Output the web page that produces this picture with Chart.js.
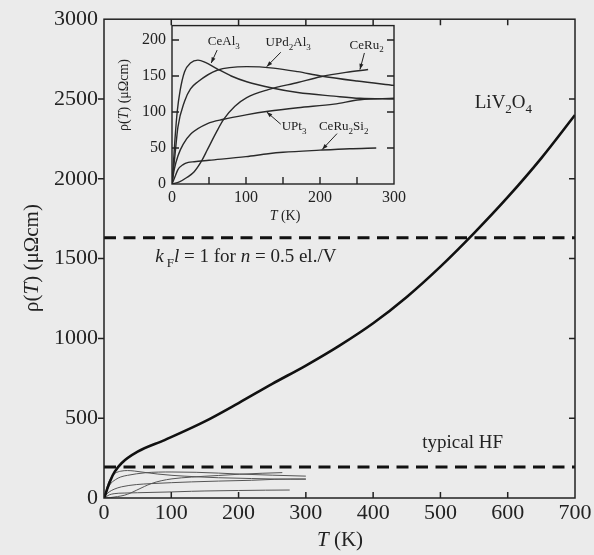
<!DOCTYPE html>
<html>
<head>
<meta charset="utf-8">
<script src="https://cdn.jsdelivr.net/npm/chart.js@4.4.1/dist/chart.umd.min.js"></script>
<style>
  html, body { margin: 0; padding: 0; background: #ebebeb; }
  #wrap { position: relative; width: 594px; height: 555px; }
  #main { position: absolute; left: 0; top: 0; }
  #inset { position: absolute; left: 100px; top: 10px; }
</style>
</head>
<body>
<div id="wrap">
  <canvas id="main" width="594" height="555"></canvas>
  <canvas id="inset" width="310" height="215"></canvas>
</div>
<script>
// LiV2O4 resistivity (main curve)
const liT   = [0, 2, 5, 10, 16, 26, 50, 90, 150, 200, 250, 300, 350, 400, 450, 500, 550, 600, 650, 700];
const liRho = [0, 20, 60, 115, 165, 218, 290, 363, 480, 595, 715, 830, 955, 1095, 1260, 1450, 1660, 1885, 2130, 2400];

// heavy fermion compounds (inset, also drawn small in main panel)
const ceal3T     = [0, 2, 4, 7, 11, 17, 25, 35, 45, 61, 80, 101, 137, 170, 219, 254, 300];
const ceal3Rho   = [0, 30, 62, 100, 130, 156, 168, 172, 169, 160, 150, 142, 133, 127, 122, 119, 118];
const upd2al3T   = [0, 4, 8, 17, 25, 35, 61, 101, 137, 170, 201, 250, 300];
const upd2al3Rho = [0, 40, 79, 115, 132, 142, 158, 163, 161, 156, 150, 143, 137];
const upt3T      = [0, 3, 8, 15, 26, 48, 70, 100, 130, 170, 219, 254, 300];
const upt3Rho    = [0, 20, 39, 55, 70, 84, 90, 96, 101, 106, 111, 117, 119];
const ceru2T     = [0, 10, 20, 30, 40, 48, 60, 70, 85, 101, 130, 170, 201, 235, 265];
const ceru2Rho   = [0, 3, 9, 17, 32, 48, 72, 90, 108, 120, 131, 141, 149, 155, 159];
const ceru2si2T   = [0, 4, 8, 15, 22, 30, 50, 100, 130, 150, 200, 240, 276];
const ceru2si2Rho = [0, 10, 20, 27, 30, 31, 33, 38, 42, 44, 47, 49, 50];

// reference levels
const kflLevel = 1630;   // k_F l = 1
const hfLevel  = 195;    // typical HF

const SERIF = '"Liberation Serif", "DejaVu Serif", serif';
const INK = '#222';

const pts = (t, r) => t.map((v, i) => ({ x: v, y: r[i] }));

function fontFor(p, size) {
  const s = p[1] === 's' ? Math.round(size * 0.7) : size;
  return (p[1] === 'i' ? 'italic ' : '') + s + 'px ' + SERIF;
}
// parts: [text, style]  style: '' normal, 'i' italic, 's' subscript
function drawRich(ctx, parts, x, y, size, align) {
  let w = 0;
  parts.forEach(p => { ctx.font = fontFor(p, size); w += ctx.measureText(p[0]).width; });
  let cx = align === 'center' ? x - w / 2 : x;
  parts.forEach(p => {
    ctx.font = fontFor(p, size);
    ctx.fillText(p[0], cx, y + (p[1] === 's' ? size * 0.28 : 0));
    cx += ctx.measureText(p[0]).width;
  });
}

function drawFrame(chart, spec) {
  const { ctx, chartArea: a, scales: { x, y } } = chart;
  ctx.save();
  ctx.strokeStyle = INK;
  ctx.lineWidth = spec.lw;
  ctx.strokeRect(a.left, a.top, a.right - a.left, a.bottom - a.top);
  ctx.beginPath();
  for (let v = x.min + spec.xStep; v < x.max; v += spec.xStep) {
    const px = x.getPixelForValue(v);
    ctx.moveTo(px, a.bottom); ctx.lineTo(px, a.bottom - spec.len);
    if (spec.top) { ctx.moveTo(px, a.top); ctx.lineTo(px, a.top + spec.len); }
  }
  for (let v = y.min + spec.yStep; v < y.max; v += spec.yStep) {
    const py = y.getPixelForValue(v);
    if (spec.leftOut) { ctx.moveTo(a.left, py); ctx.lineTo(a.left - spec.len, py); }
    else { ctx.moveTo(a.left, py); ctx.lineTo(a.left + spec.len, py); }
    ctx.moveTo(a.right, py); ctx.lineTo(a.right - spec.len, py);
  }
  ctx.stroke();
  ctx.restore();
}

function hfSets(color, width) {
  return [ceal3T, upd2al3T, upt3T, ceru2T, ceru2si2T].map((t, i) => ({
    data: pts(t, [ceal3Rho, upd2al3Rho, upt3Rho, ceru2Rho, ceru2si2Rho][i]),
    borderColor: color,
    borderWidth: width,
    pointRadius: 0,
    tension: 0.4,
    cubicInterpolationMode: 'monotone'
  }));
}

// plain numbers, no thousands separator
const plain = v => String(v);

// ---------- main panel ----------
const mainDecor = {
  id: 'mainDecor',
  afterDraw(chart) {
    const { ctx, scales: { x, y } } = chart;
    drawFrame(chart, { lw: 1.5, xStep: 100, yStep: 500, len: 6, top: true, leftOut: true });
    ctx.save();
    ctx.fillStyle = INK;
    ctx.textBaseline = 'alphabetic';
    drawRich(ctx, [['LiV', ''], ['2', 's'], ['O', ''], ['4', 's']], x.getPixelForValue(551), y.getPixelForValue(2443), 19, 'left');
    drawRich(ctx, [['k', 'i'], [' F', 's'], ['l', 'i'], [' = 1 for ', ''], ['n', 'i'], [' = 0.5 el./V', '']],
      x.getPixelForValue(76), y.getPixelForValue(1478), 19, 'left');
    drawRich(ctx, [['typical HF', '']], x.getPixelForValue(473), y.getPixelForValue(313), 19, 'left');
    // axis titles
    ctx.textBaseline = 'middle';
    drawRich(ctx, [['T', 'i'], [' (K)', '']], 340, 540, 21, 'center');
    ctx.translate(32, 258);
    ctx.rotate(-Math.PI / 2);
    drawRich(ctx, [['\u03C1(', ''], ['T', 'i'], [') (\u03BC\u03A9cm)', '']], 0, 0, 21, 'center');
    ctx.restore();
  }
};

new Chart(document.getElementById('main'), {
  type: 'line',
  data: {
    datasets: [
      { data: pts(liT, liRho), borderColor: '#111', borderWidth: 2.6, pointRadius: 0, tension: 0.4, cubicInterpolationMode: 'monotone' },
      { data: [{ x: 0, y: kflLevel }, { x: 700, y: kflLevel }], borderColor: '#111', borderWidth: 3, borderDash: [12, 7.5], pointRadius: 0 },
      { data: [{ x: 0, y: hfLevel }, { x: 700, y: hfLevel }], borderColor: '#111', borderWidth: 3, borderDash: [12, 7.5], pointRadius: 0 },
      ...hfSets('#555', 1)
    ]
  },
  options: {
    responsive: false,
    animation: false,
    layout: { padding: { top: 19, right: 19, left: 0, bottom: 0 } },
    plugins: { legend: { display: false }, tooltip: { enabled: false } },
    scales: {
      x: {
        type: 'linear', min: 0, max: 700,
        ticks: { stepSize: 100, padding: 2, maxRotation: 0, color: INK, font: { family: SERIF, size: 22 }, callback: plain },
        grid: { display: false, drawTicks: false },
        border: { display: false },
        afterFit(s) { s.height = 57; }
      },
      y: {
        type: 'linear', min: 0, max: 3000,
        ticks: { stepSize: 500, padding: 6, color: INK, font: { family: SERIF, size: 22 }, callback: plain },
        grid: { display: false, drawTicks: false },
        border: { display: false },
        afterFit(s) { s.width = 104; }
      }
    }
  },
  plugins: [mainDecor]
});

// ---------- inset ----------
const insetLabels = [
  { parts: [['CeAl', ''], ['3', 's']], at: [70, 193], from: [61, 186], to: [53, 168] },
  { parts: [['UPd', ''], ['2', 's'], ['Al', ''], ['3', 's']], at: [157, 191], from: [147, 183], to: [128, 163] },
  { parts: [['CeRu', ''], ['2', 's']], at: [263, 188], from: [260, 182], to: [254, 159] },
  { parts: [['UPt', ''], ['3', 's']], at: [165, 75], from: [147, 83], to: [128, 100] },
  { parts: [['CeRu', ''], ['2', 's'], ['Si', ''], ['2', 's']], at: [232, 75], from: [223, 70], to: [203, 48] }
];

const insetDecor = {
  id: 'insetDecor',
  afterDraw(chart) {
    const { ctx, scales: { x, y } } = chart;
    drawFrame(chart, { lw: 1.4, xStep: 50, yStep: 50, len: 7, top: false, leftOut: false });
    ctx.save();
    ctx.fillStyle = INK;
    ctx.strokeStyle = INK;
    ctx.lineWidth = 1;
    ctx.textBaseline = 'alphabetic';
    insetLabels.forEach(l => {
      drawRich(ctx, l.parts, x.getPixelForValue(l.at[0]), y.getPixelForValue(l.at[1]), 13, 'center');
      const x0 = x.getPixelForValue(l.from[0]), y0 = y.getPixelForValue(l.from[1]);
      const x1 = x.getPixelForValue(l.to[0]), y1 = y.getPixelForValue(l.to[1]);
      const ang = Math.atan2(y1 - y0, x1 - x0);
      ctx.beginPath(); ctx.moveTo(x0, y0); ctx.lineTo(x1, y1); ctx.stroke();
      ctx.beginPath();
      ctx.moveTo(x1, y1);
      ctx.lineTo(x1 - 6 * Math.cos(ang - 0.35), y1 - 6 * Math.sin(ang - 0.35));
      ctx.lineTo(x1 - 6 * Math.cos(ang + 0.35), y1 - 6 * Math.sin(ang + 0.35));
      ctx.closePath(); ctx.fill();
    });
    ctx.textBaseline = 'middle';
    drawRich(ctx, [['T', 'i'], [' (K)', '']], 185, 206, 14, 'center');
    ctx.translate(24, 85);
    ctx.rotate(-Math.PI / 2);
    drawRich(ctx, [['\u03C1(', ''], ['T', 'i'], [') (\u03BC\u03A9cm)', '']], 0, 0, 14, 'center');
    ctx.restore();
  }
};

new Chart(document.getElementById('inset'), {
  type: 'line',
  data: { datasets: hfSets('#2a2a2a', 1.4) },
  options: {
    responsive: false,
    animation: false,
    layout: { padding: { top: 10, right: 12, left: 0, bottom: 0 } },
    plugins: { legend: { display: false }, tooltip: { enabled: false } },
    scales: {
      x: {
        type: 'linear', min: 0, max: 300,
        ticks: { stepSize: 100, padding: 4, maxRotation: 0, color: INK, font: { family: SERIF, size: 16 }, callback: plain },
        grid: { display: false, drawTicks: false },
        border: { display: false },
        afterFit(s) { s.height = 41; }
      },
      y: {
        type: 'linear', min: 0, max: 220,
        ticks: { stepSize: 50, includeBounds: false, padding: 6, color: INK, font: { family: SERIF, size: 16 }, callback: plain },
        grid: { display: false, drawTicks: false },
        border: { display: false },
        afterFit(s) { s.width = 72; }
      }
    }
  },
  plugins: [insetDecor]
});
</script>
</body>
</html>
